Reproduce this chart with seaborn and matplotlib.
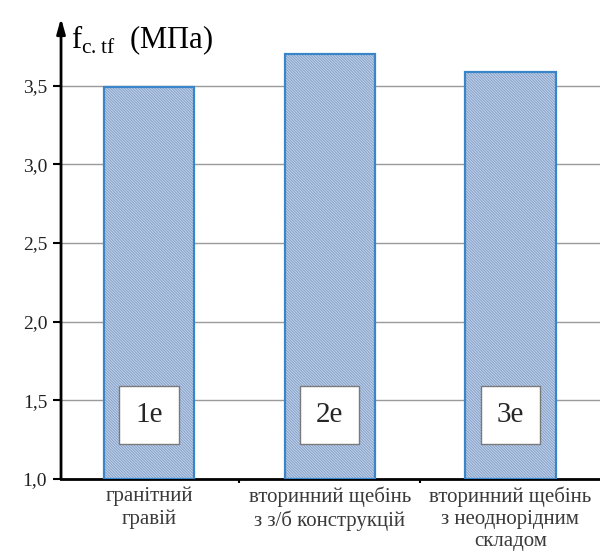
import matplotlib
matplotlib.use("Agg")
import matplotlib.pyplot as plt
import seaborn as sns
import pandas as pd
from matplotlib.patches import Rectangle

categories = ["гранітний\nгравій",
              "вторинний щебінь\nз з/б конструкцій",
              "вторинний щебінь\nз неоднорідним\nскладом"]
values = [3.49, 3.70, 3.59]
box_labels = ["1е", "2е", "3е"]
yticks = [1.0, 1.5, 2.0, 2.5, 3.0, 3.5]
ytick_labels = ["1,0", "1,5", "2,0", "2,5", "3,0", "3,5"]

sns.set_style("white")
plt.rcParams["font.family"] = ["Liberation Serif", "DejaVu Serif"]
plt.rcParams["hatch.linewidth"] = 0.8

df = pd.DataFrame({"cat": categories, "val": values})

fig = plt.figure(figsize=(6.0, 5.53), dpi=100)
ax = fig.add_axes([0.1017, 0.1338, 0.898, 0.8336])

sns.barplot(data=df, x="cat", y="val", ax=ax, width=0.5,
            color="#c6d5ec", edgecolor="#8aa5cc", linewidth=0,
            saturation=1, zorder=2)

for p in ax.patches:
    p.set_hatch("\\" * 12)
    ax.add_patch(Rectangle((p.get_x(), 1.0), p.get_width(), p.get_height() + p.get_y() - 1.0,
                           fill=False, edgecolor="#3a84c9", linewidth=1.6, zorder=3))

ax.set_ylim(1.0, 3.93)
ax.set_xlim(-0.487, 2.495)

ax.set_yticks(yticks)
ax.set_yticklabels(ytick_labels, fontsize=14, color="#222222")
ax.set_xticks([0.5, 1.5])
ax.set_xticklabels([])
for i, c in enumerate(categories):
    ax.text(i, -0.017, c, ha="center", va="top", fontsize=15, color="#3a3a3a",
            linespacing=1.2, transform=ax.get_xaxis_transform())

ax.tick_params(axis="y", left=True, direction="out", length=6, width=1.5,
               color="black", pad=4)
ax.tick_params(axis="x", bottom=True, direction="out", length=3, width=1.5,
               color="black")

for y in yticks[1:]:
    ax.axhline(y, color="#9a9a9a", linewidth=1.0, zorder=1)

for s in ["top", "right"]:
    ax.spines[s].set_visible(False)
ax.spines["bottom"].set_linewidth(2)
ax.spines["bottom"].set_color("black")
ax.spines["left"].set_visible(False)
ax.annotate("", xy=(0, 1.0), xytext=(0, 0.0), xycoords="axes fraction",
            arrowprops=dict(arrowstyle="-|>,head_length=0.9,head_width=0.25",
                            color="black", lw=2, shrinkA=0, shrinkB=0), zorder=5)

for i, lbl in enumerate(box_labels):
    ax.text(i, 1.405, lbl, ha="center", va="center", fontsize=21, zorder=6,
            bbox=dict(boxstyle="square,pad=0.55", facecolor="white",
                      edgecolor="#7a7a7a", linewidth=1.0))

ax.set_xlabel("")
ax.set_ylabel("")
fig.text(0.118, 0.928, r"f$_{\mathregular{c.tf}}$  (МПа)", fontsize=22,
         ha="left", va="center", color="black")

fig.savefig("out.png", dpi=100)
